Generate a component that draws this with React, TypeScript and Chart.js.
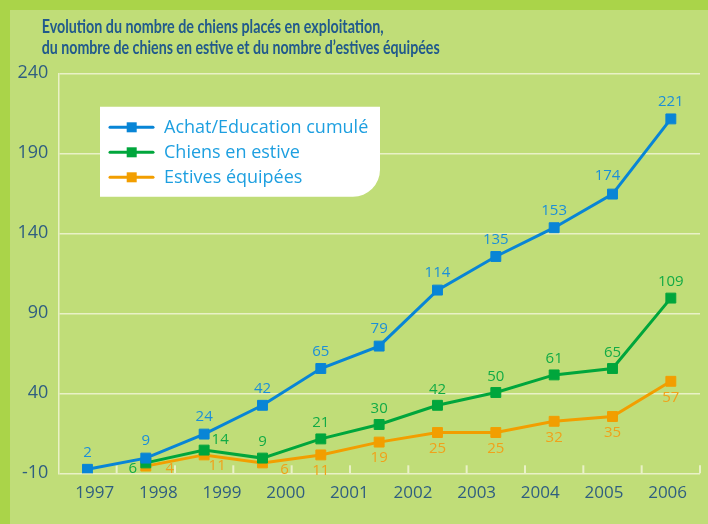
import React, { useEffect, useRef } from "react";
import { Chart, registerables } from "chart.js";

Chart.register(...registerables);

// ---------- data ----------
const yearLabels = ["1997", "1998", "1999", "2000", "2001", "2002", "2003", "2004", "2005", "2006"];
const yTickLabels = ["-10", "40", "90", "140", "190", "240"];
const seriesNames = ["Achat/Education cumulé", "Chiens en estive", "Estives équipées"];
const achatValues = [2, 9, 24, 42, 65, 79, 114, 135, 153, 174, 221];
const estiveValues = [6, 14, 9, 21, 30, 42, 50, 61, 65, 109];
const equipeesValues = [4, 11, 6, 11, 19, 25, 25, 32, 35, 57];
const seriesStartSlot = [0, 1, 1];
const titleLines = [
  "Evolution du nombre de chiens placés en exploitation,",
  "du nombre de chiens en estive et du nombre d’estives équipées",
];

// ---------- style ----------
const COLORS = ["#0885d6", "#00a63c", "#f29e00"];
const LABEL_COLORS = ["#1c8fd8", "#12ab45", "#f0a11a"];
const GRID = "#e9f1c6";
const TICK_COLOR = "#2f5e80";
const TITLE_COLOR = "#215a8c";
const LEGEND_TEXT = "#1d9fe0";
const FONT = "'Open Sans', 'Noto Sans', sans-serif";
const TITLE_FONT = "Lato, 'Open Sans', sans-serif";
const Y_SHIFT = 9.5; // the printed axis is offset from the plotted values
const LABEL_DY = [-17, -16, 16];
const LABEL_NUDGE: Record<string, [number, number]> = {
  "0:9": [-5, -18],
  "1:0": [-13, 6],
  "1:1": [16, -10],
  "2:0": [24, 3],
  "2:1": [13, 11],
  "2:2": [22, 7],
};

const seriesValues = [achatValues, estiveValues, equipeesValues];

export default function App() {
  const ref = useRef<HTMLCanvasElement | null>(null);

  useEffect(() => {
    if (!ref.current) return;

    const titlePlugin = {
      id: "titleText",
      afterDraw(chart: any) {
        const ctx = chart.ctx;
        ctx.save();
        ctx.fillStyle = TITLE_COLOR;
        ctx.font = `bold 18px ${TITLE_FONT}`;
        ctx.textBaseline = "alphabetic";
        ctx.textAlign = "left";
        const targets = [342, 398];
        const baselines = [33.3, 54];
        titleLines.forEach((t, i) => {
          const w = ctx.measureText(t).width;
          ctx.save();
          ctx.translate(41.7, baselines[i]);
          ctx.scale(targets[i] / w, 1);
          ctx.fillText(t, 0, 0);
          ctx.restore();
        });
        ctx.restore();
      },
    };

    const tickMarksPlugin = {
      id: "tickMarks",
      beforeDatasetsDraw(chart: any) {
        const ctx = chart.ctx;
        const x = chart.scales.x;
        const bottom = chart.chartArea.bottom;
        ctx.save();
        ctx.strokeStyle = GRID;
        ctx.lineWidth = 2;
        for (let i = 0; i < achatValues.length; i++) {
          const px = x.getPixelForValue(i + 0.5);
          ctx.beginPath();
          ctx.moveTo(px, bottom);
          ctx.lineTo(px, bottom - 8);
          ctx.stroke();
        }
        ctx.restore();
      },
    };

    const labelsPlugin = {
      id: "valueLabels",
      afterDatasetsDraw(chart: any) {
        const ctx = chart.ctx;
        ctx.save();
        ctx.font = `15px ${FONT}`;
        ctx.textAlign = "center";
        ctx.textBaseline = "middle";
        chart.data.datasets.forEach((ds: any, si: number) => {
          const meta = chart.getDatasetMeta(si);
          ctx.fillStyle = LABEL_COLORS[si];
          meta.data.forEach((pt: any, i: number) => {
            const nudge = LABEL_NUDGE[`${si}:${i}`] || [0, LABEL_DY[si]];
            ctx.fillText(String(seriesValues[si][i]), pt.x + nudge[0], pt.y + nudge[1]);
          });
        });
        ctx.restore();
      },
    };

    const legendPlugin = {
      id: "legendBox",
      afterDatasetsDraw(chart: any) {
        const ctx = chart.ctx;
        const x0 = 100, y0 = 106.7, x1 = 380, y1 = 196.7, r = 27;
        ctx.save();
        ctx.fillStyle = "#ffffff";
        ctx.beginPath();
        ctx.moveTo(x0, y0);
        ctx.lineTo(x1, y0);
        ctx.lineTo(x1, y1 - r);
        ctx.arcTo(x1, y1, x1 - r, y1, r);
        ctx.lineTo(x0, y1);
        ctx.closePath();
        ctx.fill();
        ctx.font = `18px ${FONT}`;
        ctx.textBaseline = "middle";
        ctx.textAlign = "left";
        seriesNames.forEach((name, i) => {
          const y = 127.3 + i * 25;
          ctx.strokeStyle = COLORS[i];
          ctx.lineWidth = 3;
          ctx.lineCap = "round";
          ctx.beginPath();
          ctx.moveTo(110, y);
          ctx.lineTo(153, y);
          ctx.stroke();
          ctx.fillStyle = COLORS[i];
          ctx.fillRect(126.7, y - 5, 10, 10);
          ctx.fillStyle = LEGEND_TEXT;
          ctx.fillText(name, 164, y + 1);
        });
        ctx.restore();
      },
    };

    const datasets = seriesValues.map((vals, si) => ({
      label: seriesNames[si],
      data: vals.map((v, i) => ({ x: i + seriesStartSlot[si], y: v })),
      borderColor: COLORS[si],
      backgroundColor: COLORS[si],
      pointBackgroundColor: COLORS[si],
      pointBorderColor: COLORS[si],
      pointBorderWidth: 1,
      pointStyle: "rect",
      pointRadius: 7,
      borderWidth: 3,
      tension: 0,
      xAxisID: "x",
      yAxisID: "y",
    }));

    const yMin = -10 + Y_SHIFT;
    const yMax = 240 + Y_SHIFT;

    const chart = new Chart(ref.current, {
      type: "line",
      data: { datasets },
      options: {
        responsive: false,
        animation: false,
        devicePixelRatio: 1,
        layout: { padding: { left: 0, top: 73.3, right: 708 - 705.4, bottom: 0 } },
        plugins: {
          legend: { display: false },
          title: { display: false },
          tooltip: { enabled: false },
        },
        scales: {
          x: {
            type: "linear",
            display: false,
            min: -0.5,
            max: achatValues.length - 0.5,
          },
          years: {
            type: "linear",
            position: "bottom",
            min: -0.5717,
            max: 9.509,
            grid: { display: false, drawTicks: false },
            border: { display: false },
            afterBuildTicks: (scale: any) => {
              scale.ticks = yearLabels.map((_, i) => ({ value: i }));
            },
            afterFit: (scale: any) => {
              scale.height = 524 - 473.3;
            },
            ticks: {
              autoSkip: false,
              maxRotation: 0,
              padding: 10,
              color: TICK_COLOR,
              font: { family: FONT, size: 17 },
              callback: (_v: any, i: number) => yearLabels[i],
            },
          },
          y: {
            type: "linear",
            min: yMin,
            max: yMax,
            grid: { color: GRID, lineWidth: 1.5, drawTicks: false },
            border: { color: GRID, width: 1.5 },
            afterBuildTicks: (scale: any) => {
              scale.ticks = yTickLabels.map((_, i) => ({ value: yMin + i * 50 }));
            },
            afterFit: (scale: any) => {
              scale.width = 58.3;
            },
            ticks: {
              padding: 10,
              color: TICK_COLOR,
              font: { family: FONT, size: 18 },
              callback: (_v: any, i: number) => yTickLabels[i],
            },
          },
        },
      },
      plugins: [tickMarksPlugin, labelsPlugin, legendPlugin, titlePlugin],
    } as any);

    return () => chart.destroy();
  }, []);

  return (
    <div
      style={{
        position: "fixed",
        left: 0,
        top: 0,
        width: 708,
        height: 524,
        boxSizing: "border-box",
        background: "#c0dd78",
        borderTop: "10px solid #aad449",
        borderLeft: "10px solid #aad449",
      }}
    >
      <canvas
        ref={ref}
        width={708}
        height={524}
        style={{ position: "absolute", left: -10, top: -10, width: 708, height: 524 }}
      />
    </div>
  );
}
